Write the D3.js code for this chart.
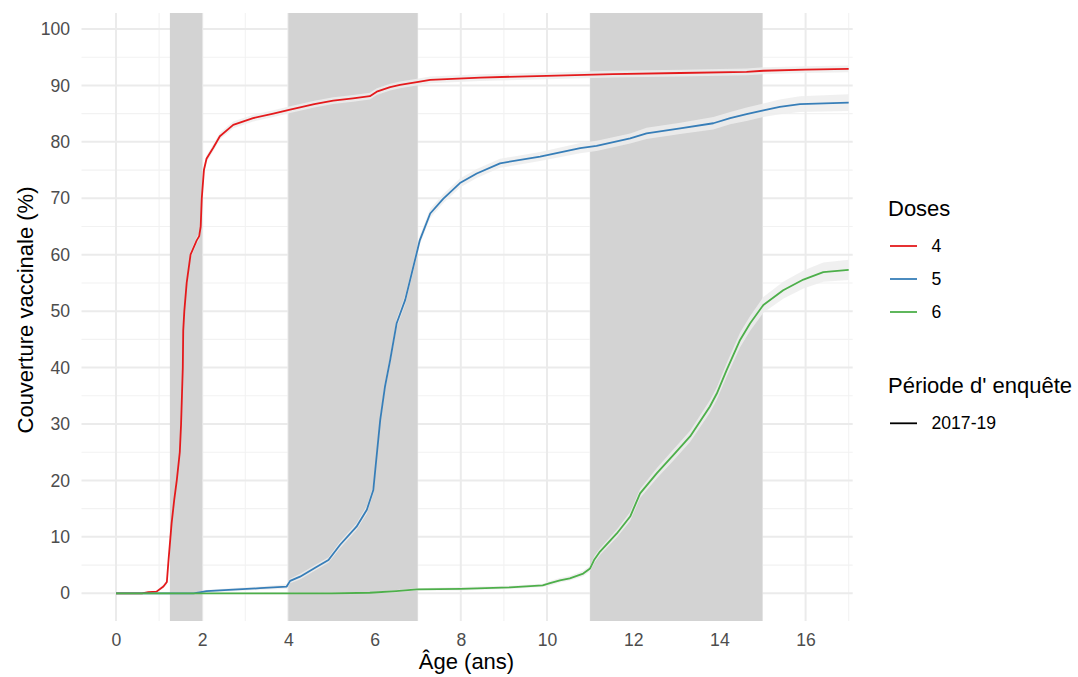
<!DOCTYPE html>
<html>
<head>
<meta charset="utf-8">
<script src="https://cdn.jsdelivr.net/npm/d3@7"></script>
<style>
  body { margin: 0; background: #fff; }
  svg { display: block; font-family: "Liberation Sans", Arial, sans-serif; }
</style>
</head>
<body>
<script>
// Couverture vaccinale par âge, doses 4/5/6, période 2017-19
// points: [âge (ans), couverture (%), demi-largeur IC]
const dose4 = [[0,0,0],[0.6,0,0],[0.75,0.2,0.1],[0.94,0.3,0.2],[1.1,1.2,0.3],[1.18,2.0,0.4],[1.22,6,0.5],
  [1.29,12.4,0.6],[1.35,16.5,0.6],[1.41,20,0.6],[1.48,25,0.6],[1.51,30,0.6],[1.53,35,0.6],[1.55,40,0.6],
  [1.56,46.6,0.6],[1.585,50,0.6],[1.64,55,0.6],[1.73,60,0.6],[1.87,62.5,0.6],[1.93,63.3,0.6],[1.965,65,0.6],
  [1.99,70,0.6],[2.04,75,0.6],[2.1,77,0.6],[2.26,79,0.6],[2.41,81,0.6],[2.72,83,0.6],[3.18,84.2,0.6],
  [3.65,85,0.6],[4.04,85.7,0.6],[4.27,86.1,0.6],[4.6,86.7,0.6],[5.04,87.3,0.6],[5.5,87.7,0.6],[5.89,88.1,0.6],
  [6.05,88.9,0.6],[6.36,89.7,0.6],[6.59,90.1,0.6],[6.98,90.6,0.6],[7.29,91.0,0.6],[8.45,91.4,0.6],
  [9.99,91.7,0.6],[11.53,92.0,0.6],[13.09,92.2,0.6],[14.63,92.4,0.6],[15.02,92.6,0.6],[16.0,92.8,0.6],[17,92.95,0.6]];

const dose5 = [[0,0,0],[1.8,0,0.1],[2.1,0.4,0.2],[2.72,0.65,0.3],[3.34,0.9,0.3],[3.96,1.2,0.4],[4.04,2.2,0.4],
  [4.27,2.95,0.5],[4.66,4.7,0.5],[4.93,5.9,0.5],[5.2,8.6,0.6],[5.58,11.8,0.6],[5.82,14.8,0.7],[5.97,18.3,0.7],
  [6.03,23,0.8],[6.13,30.7,0.8],[6.24,36.6,0.8],[6.36,41.3,0.8],[6.51,47.8,0.8],[6.71,52,0.8],[6.9,57.9,0.8],
  [7.05,62.6,0.8],[7.29,67.3,0.8],[7.59,69.9,0.8],[7.98,72.7,0.8],[8.37,74.4,0.8],[8.91,76.2,0.8],
  [9.84,77.4,0.8],[10.77,78.9,0.9],[11.15,79.3,0.9],[11.93,80.6,0.9],[12.31,81.5,1],[13.09,82.4,1],
  [13.86,83.3,1.1],[14.25,84.2,1.1],[14.63,84.9,1.2],[15.02,85.6,1.2],[15.4,86.2,1.3],[15.87,86.7,1.4],[17,86.95,1.5]];

const dose6 = [[0,0,0],[5.0,0,0.1],[5.89,0.1,0.1],[6.5,0.4,0.2],[6.98,0.7,0.2],[8.0,0.8,0.3],[9.14,1.06,0.3],
  [9.9,1.4,0.3],[10.07,1.8,0.4],[10.3,2.3,0.4],[10.53,2.66,0.4],[10.84,3.5,0.5],[11.0,4.4,0.5],[11.1,6,0.6],
  [11.23,7.4,0.6],[11.62,10.6,0.7],[11.93,13.6,0.8],[12.16,17.7,0.8],[12.55,21.3,0.9],[12.93,24.5,1],
  [13.32,27.8,1],[13.78,33.1,1.1],[13.94,35.4,1.1],[14.17,39.6,1.2],[14.48,44.9,1.3],[14.71,47.8,1.3],
  [15.02,51.1,1.4],[15.48,53.7,1.5],[15.95,55.6,1.6],[16.41,56.9,1.7],[17,57.3,1.8]];

const doseLabels = ["4", "5", "6"];
const doseColors = ["#e41a1c", "#377eb8", "#4daf4a"];
const periodLabels = ["2017-19"];
// tranches d'âge recommandées (zones grisées)
const bands = [[1.25, 2], [4, 7], [11, 15]];
const xTicks = [0, 2, 4, 6, 8, 10, 12, 14, 16];
const xMinor = [1, 3, 5, 7, 9, 11, 13, 15, 17];
const yTicks = [0, 10, 20, 30, 40, 50, 60, 70, 80, 90, 100];
const yMinor = [5, 15, 25, 35, 45, 55, 65, 75, 85, 95];

const width = 1078, height = 677;
const panel = {left: 81.5, right: 852.7, top: 13, bottom: 621};

const svg = d3.select("body").append("svg")
  .attr("width", width)
  .attr("height", height);

const x = d3.scaleLinear().domain([0, 17]).range([116, 116 + 17 * 43.1]);
const y = d3.scaleLinear().domain([0, 100]).range([593.3, 29]);

// grille
const grid = svg.append("g");
grid.selectAll(".xminor").data(xMinor).enter().append("line")
  .attr("x1", d => x(d)).attr("x2", d => x(d))
  .attr("y1", panel.top).attr("y2", panel.bottom)
  .attr("stroke", "#f2f2f2").attr("stroke-width", 1.1);
grid.selectAll(".yminor").data(yMinor).enter().append("line")
  .attr("x1", panel.left).attr("x2", panel.right)
  .attr("y1", d => y(d)).attr("y2", d => y(d))
  .attr("stroke", "#f2f2f2").attr("stroke-width", 1.1);
grid.selectAll(".xmajor").data(xTicks).enter().append("line")
  .attr("x1", d => x(d)).attr("x2", d => x(d))
  .attr("y1", panel.top).attr("y2", panel.bottom)
  .attr("stroke", "#ebebeb").attr("stroke-width", 2);
grid.selectAll(".ymajor").data(yTicks).enter().append("line")
  .attr("x1", panel.left).attr("x2", panel.right)
  .attr("y1", d => y(d)).attr("y2", d => y(d))
  .attr("stroke", "#ebebeb").attr("stroke-width", 2);

// zones grisées
svg.selectAll(".band").data(bands).enter().append("rect")
  .attr("x", d => x(d[0]))
  .attr("width", d => x(d[1]) - x(d[0]))
  .attr("y", panel.top)
  .attr("height", panel.bottom - panel.top)
  .attr("fill", "#d3d3d3");

const series = [dose4, dose5, dose6];

const area = d3.area()
  .x(d => x(d[0]))
  .y0(d => y(Math.max(0, d[1] - d[2])))
  .y1(d => y(d[1] + d[2]));
const line = d3.line()
  .x(d => x(d[0]))
  .y(d => y(d[1]));

svg.selectAll(".ribbon").data(series).enter().append("path")
  .attr("d", area)
  .attr("fill", "#ededed")
  .attr("opacity", 0.85);

svg.selectAll(".curve").data(series).enter().append("path")
  .attr("d", line)
  .attr("fill", "none")
  .attr("stroke", (d, i) => doseColors[i])
  .attr("stroke-width", 1.8)
  .attr("stroke-linejoin", "round");

// axes
const xAxis = svg.append("g")
  .attr("transform", `translate(0,${panel.bottom})`)
  .call(d3.axisBottom(x).tickValues(xTicks).tickSize(0).tickPadding(12.5));
const yAxis = svg.append("g")
  .attr("transform", `translate(${panel.left},0)`)
  .call(d3.axisLeft(y).tickValues(yTicks).tickSize(0).tickPadding(11.5));
[xAxis, yAxis].forEach(g => {
  g.select(".domain").remove();
  g.selectAll("text")
    .attr("fill", "#4d4d4d")
    .style("font-size", "17.6px")
    .style("font-family", "'Liberation Sans', Arial, sans-serif");
});

svg.append("text")
  .attr("x", 466.5).attr("y", 669)
  .attr("text-anchor", "middle")
  .style("font-size", "22px")
  .text("Âge (ans)");

svg.append("text")
  .attr("transform", "translate(33,310) rotate(-90)")
  .attr("text-anchor", "middle")
  .style("font-size", "22px")
  .text("Couverture vaccinale (%)");

// légende
const legend = svg.append("g");
legend.append("text")
  .attr("x", 888).attr("y", 216)
  .style("font-size", "22px")
  .text("Doses");
const keyY = [246, 279, 312];
doseLabels.forEach((lab, i) => {
  legend.append("line")
    .attr("x1", 890).attr("x2", 917)
    .attr("y1", keyY[i]).attr("y2", keyY[i])
    .attr("stroke", doseColors[i]).attr("stroke-width", 1.8);
  legend.append("text")
    .attr("x", 931.5).attr("y", keyY[i])
    .attr("dy", "0.35em")
    .style("font-size", "17.6px")
    .text(lab);
});

legend.append("text")
  .attr("x", 888).attr("y", 393.3)
  .style("font-size", "22px")
  .text("Période d' enquête");
periodLabels.forEach((lab, i) => {
  const ky = 423.3 + i * 33;
  legend.append("line")
    .attr("x1", 890).attr("x2", 917)
    .attr("y1", ky).attr("y2", ky)
    .attr("stroke", "#000").attr("stroke-width", 1.8);
  legend.append("text")
    .attr("x", 931.5).attr("y", ky)
    .attr("dy", "0.35em")
    .style("font-size", "17.6px")
    .text(lab);
});
</script>
</body>
</html>
